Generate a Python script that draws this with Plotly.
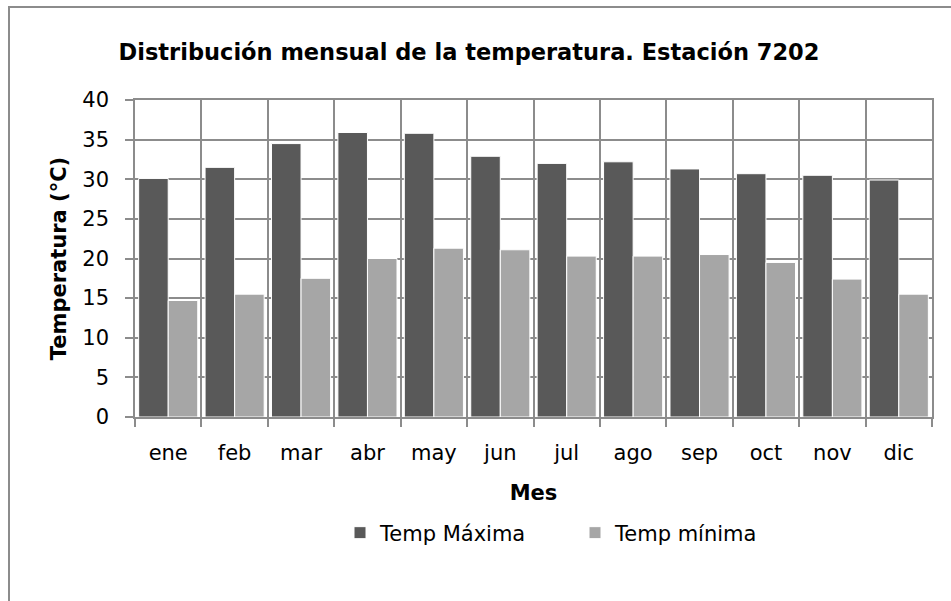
import plotly.graph_objects as go

months = ["ene", "feb", "mar", "abr", "may", "jun", "jul", "ago", "sep", "oct", "nov", "dic"]
temp_max = [30.1, 31.5, 34.5, 35.9, 35.8, 32.9, 32.0, 32.2, 31.3, 30.7, 30.5, 29.9]
temp_min = [14.7, 15.5, 17.5, 20.0, 21.3, 21.1, 20.3, 20.3, 20.5, 19.5, 17.4, 15.5]
y_ticks = [0, 5, 10, 15, 20, 25, 30, 35, 40]

FONT = "DejaVu Sans"
GRID = "#8c8c8c"

W, H = 951, 601
L, R, T, B = 135, 19, 100, 184
pw, ph = W - L - R, H - T - B

fig = go.Figure()
fig.add_trace(go.Bar(x=months, y=temp_max, name="Temp Máxima",
                     marker=dict(color="#595959", line=dict(color="white", width=1))))
fig.add_trace(go.Bar(x=months, y=temp_min, name="Temp mínima",
                     marker=dict(color="#a6a6a6", line=dict(color="white", width=1))))

fig.update_layout(
    width=W, height=H,
    margin=dict(l=L, r=R, t=T, b=B),
    paper_bgcolor="white", plot_bgcolor="white",
    barmode="group", bargap=0.11, bargroupgap=0,
    font=dict(family=FONT, size=21, color="black"),
    title=dict(text="<b>Distribución mensual de la temperatura. Estación 7202</b>",
               x=469 / W, xanchor="center", y=1 - 52 / H, yanchor="middle",
               font=dict(family=FONT, size=22.5, color="black")),
    xaxis=dict(
        type="category", tickson="boundaries", showgrid=True, gridcolor=GRID, gridwidth=1.5,
        ticks="outside", ticklen=8, tickcolor=GRID, tickwidth=1.5, ticklabelstandoff=16,
        showline=True, linecolor=GRID, linewidth=1.5, mirror=True,
        tickfont=dict(family=FONT, size=21),
        title=dict(text="<b>Mes</b>", font=dict(family=FONT, size=21), standoff=21),
    ),
    yaxis=dict(
        range=[0, 40], tickvals=y_ticks, showgrid=True, gridcolor=GRID, gridwidth=1.5,
        ticks="outside", ticklen=8, tickcolor=GRID, tickwidth=1.5, ticklabelstandoff=12,
        showline=True, linecolor=GRID, linewidth=1.5, mirror=True, zeroline=False,
        tickfont=dict(family=FONT, size=21),
        title=dict(text="<b>Temperatura (°C)</b>", font=dict(family=FONT, size=21), standoff=10),
    ),
    legend=dict(orientation="h", x=(340 - L) / pw, xanchor="left",
                y=(417 - 533) / ph, yanchor="middle",
                entrywidth=190, entrywidthmode="pixels",
                font=dict(family=FONT, size=21)),
    shapes=[dict(type="rect", xref="paper", yref="paper",
                 x0=(9 - L) / pw, x1=(W + 10 - L) / pw,
                 y0=(H - B - 7) / ph, y1=(H - B - H - 10) / ph,
                 line=dict(color=GRID, width=2), fillcolor="rgba(0,0,0,0)", layer="below")],
)

fig.write_html("out.html", config={"displayModeBar": False},
               post_script="document.body.style.margin='0';document.body.style.overflow='hidden';")
